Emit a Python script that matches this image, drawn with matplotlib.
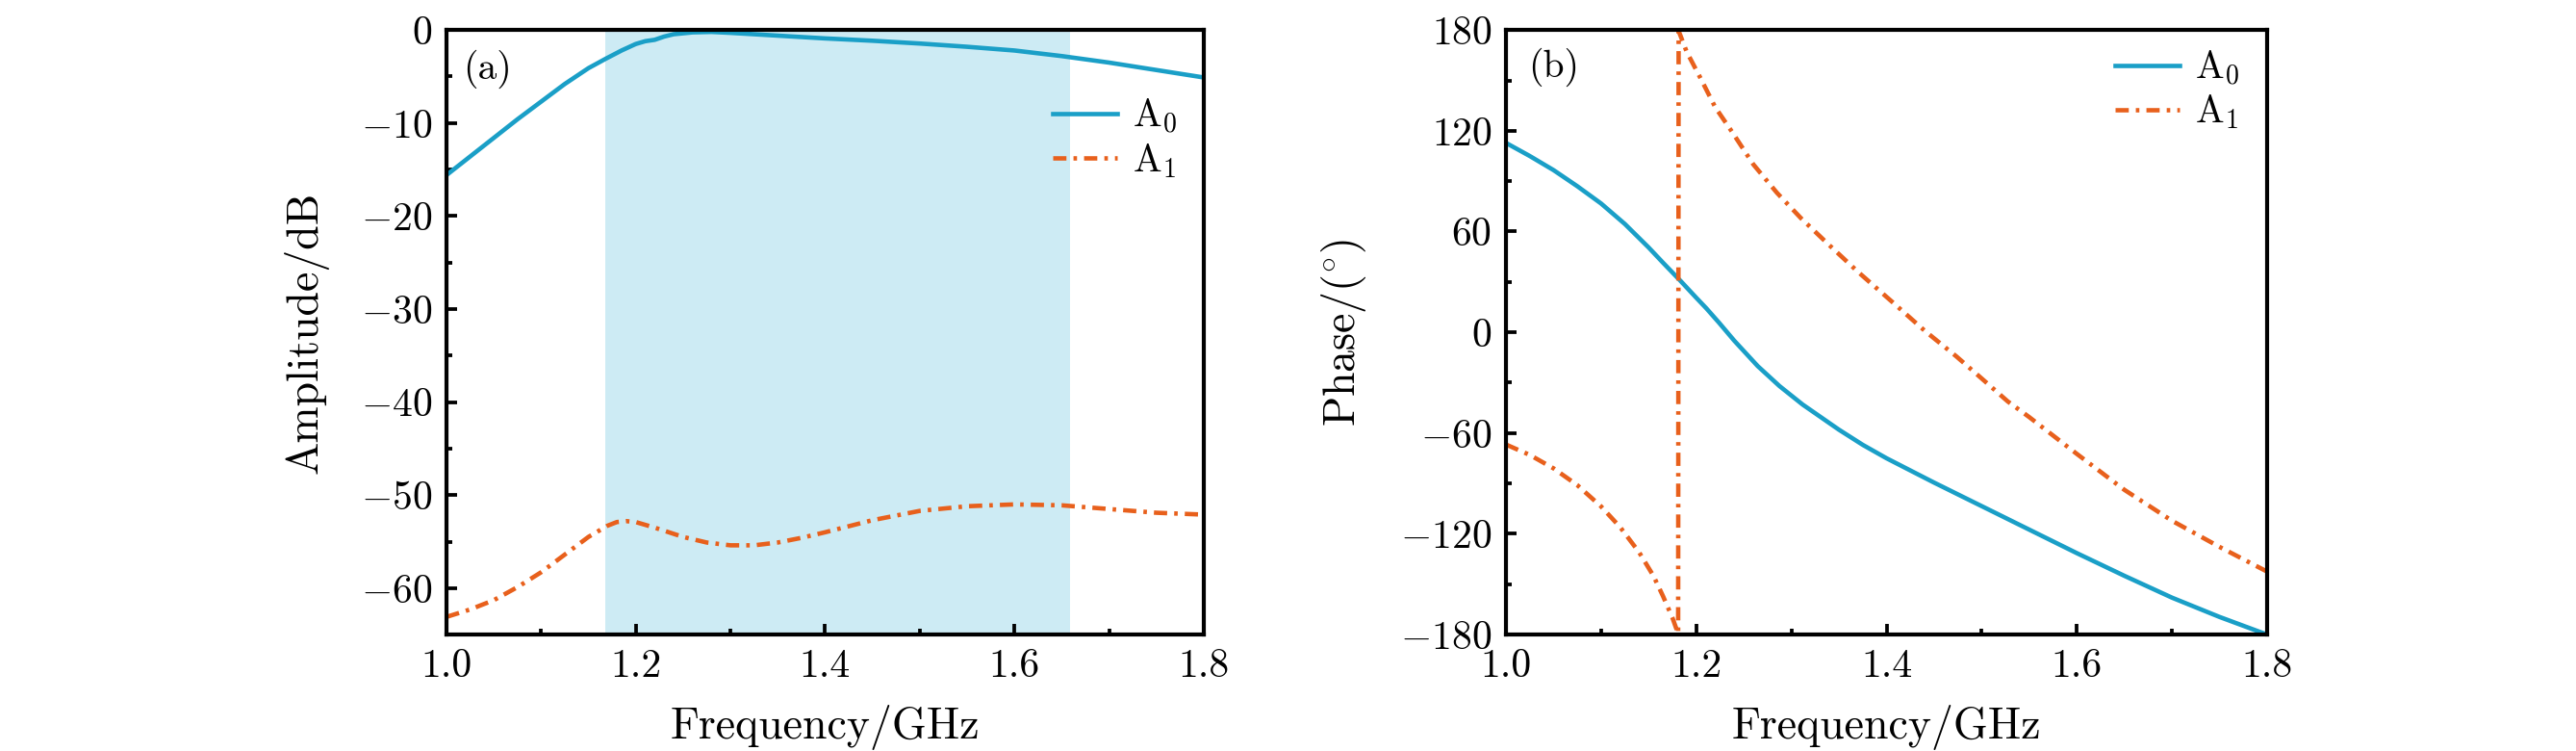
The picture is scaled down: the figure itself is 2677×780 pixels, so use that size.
import numpy as np
import matplotlib
matplotlib.use("Agg")
import matplotlib.pyplot as plt
from matplotlib.ticker import MultipleLocator, FormatStrFormatter

plt.rcParams['font.family'] = 'serif'
plt.rcParams['font.serif'] = ['cmr10']
plt.rcParams['mathtext.fontset'] = 'cm'
plt.rcParams['axes.formatter.use_mathtext'] = True
plt.rcParams['axes.unicode_minus'] = True

# --- amplitude (a) ---
freq_amp0 = [1.00, 1.025, 1.05, 1.075, 1.10, 1.125, 1.15, 1.168, 1.185, 1.20,
             1.21, 1.22, 1.23, 1.24, 1.26, 1.28, 1.30, 1.35, 1.40, 1.45, 1.50,
             1.55, 1.60, 1.65, 1.70, 1.75, 1.80]
amp_a0 = [-15.6, -13.6, -11.6, -9.6, -7.7, -5.8, -4.1, -3.1, -2.2, -1.5,
          -1.2, -1.05, -0.7, -0.45, -0.25, -0.2, -0.3, -0.6, -0.9, -1.15, -1.45,
          -1.8, -2.2, -2.8, -3.5, -4.3, -5.1]

freq_amp1 = [1.00, 1.025, 1.05, 1.075, 1.10, 1.125, 1.15, 1.17, 1.18, 1.19,
             1.20, 1.22, 1.25, 1.275, 1.30, 1.325, 1.35, 1.375, 1.40, 1.45,
             1.50, 1.55, 1.60, 1.65, 1.70, 1.75, 1.80]
amp_a1 = [-63.1, -62.3, -61.3, -59.9, -58.3, -56.4, -54.5, -53.3, -52.9, -52.8,
          -52.9, -53.5, -54.5, -55.1, -55.4, -55.4, -55.1, -54.6, -54.0, -52.7,
          -51.7, -51.2, -51.0, -51.1, -51.5, -51.9, -52.1]

band = [1.168, 1.659]

# --- phase (b) ---
freq_ph0 = [1.00, 1.025, 1.05, 1.075, 1.10, 1.125, 1.15, 1.165, 1.1837,
            1.20, 1.2106, 1.224, 1.24, 1.2646, 1.2875, 1.3118, 1.35, 1.375,
            1.40, 1.45, 1.50, 1.55, 1.60, 1.65, 1.70, 1.75, 1.80]
ph_a0 = [112.8, 105.0, 96.6, 87.0, 76.7, 64.5, 50.5, 41.5, 30.5,
         20.6, 14.3, 5.7, -5.0, -20.1, -32.0, -43.0, -58.0, -67.0,
         -75.0, -89.5, -103.5, -117.5, -131.5, -145.0, -158.0, -169.5, -180.0]

freq_ph1 = [1.00, 1.025, 1.05, 1.075, 1.10, 1.12, 1.14, 1.155, 1.165, 1.175,
            1.181, 1.1815, 1.19, 1.204, 1.22, 1.2376, 1.26, 1.2848, 1.31,
            1.3387, 1.37, 1.406, 1.44, 1.4735, 1.50, 1.5275, 1.55, 1.60,
            1.65, 1.70, 1.75, 1.80]
ph_a1 = [-66.8, -73.0, -81.0, -91.0, -103.7, -116.0, -131.0, -145.0, -157.0,
         -170.0, -179.5, 179.5, 167.0, 151.9, 134.0, 119.4, 100.0, 83.1, 68.0,
         52.5, 36.0, 18.1, 1.0, -14.4, -27.5, -41.2, -50.5, -72.4,
         -93.8, -112.2, -127.8, -142.5]

c0 = '#1a9fc7'
c1 = '#e8601c'
fs_tick = 10
fs_lab = 11
fs_leg = 9.5
dashdot = (0, (3.0, 1.6, 0.8, 1.6))
lw = 1.1

fig = plt.figure(figsize=(2677 / 300, 780 / 300), dpi=300)
ax1 = fig.add_axes([0.1733, 0.155, 0.294, 0.805])
ax2 = fig.add_axes([0.5846, 0.155, 0.2955, 0.805])

ax1.axvspan(band[0], band[1], color='#cdebf4', lw=0, zorder=0)
ax1.plot(freq_amp0, amp_a0, color=c0, lw=lw, label=r'A$_0$')
ax1.plot(freq_amp1, amp_a1, color=c1, lw=lw, ls=dashdot, label=r'A$_1$')
ax1.set_xlim(1.0, 1.8)
ax1.set_ylim(-65, 0)
ax1.yaxis.set_major_locator(MultipleLocator(10))
ax1.yaxis.set_minor_locator(MultipleLocator(5))
ax1.set_ylabel('Amplitude/dB', fontsize=fs_lab, labelpad=8)
ax1.text(0.022, 0.936, '(a)', transform=ax1.transAxes, fontsize=fs_leg, va='center')
ax1.legend(loc='upper left', bbox_to_anchor=(0.80, 0.89), frameon=False,
           fontsize=fs_leg, handlelength=1.7, handletextpad=0.4,
           labelspacing=0.15, borderpad=0, borderaxespad=0)

ax2.plot(freq_ph0, ph_a0, color=c0, lw=lw, label=r'A$_0$')
ax2.plot(freq_ph1, ph_a1, color=c1, lw=lw, ls=dashdot, label=r'A$_1$')
ax2.set_xlim(1.0, 1.8)
ax2.set_ylim(-180, 180)
ax2.yaxis.set_major_locator(MultipleLocator(60))
ax2.yaxis.set_minor_locator(MultipleLocator(30))
ax2.set_ylabel(r'Phase/($^{\circ}$)', fontsize=fs_lab, labelpad=8)
ax2.text(0.029, 0.938, '(b)', transform=ax2.transAxes, fontsize=fs_leg, va='center')
ax2.legend(loc='upper left', bbox_to_anchor=(0.80, 0.97), frameon=False,
           fontsize=fs_leg, handlelength=1.7, handletextpad=0.4,
           labelspacing=0.15, borderpad=0, borderaxespad=0)

for ax in (ax1, ax2):
    ax.xaxis.set_major_locator(MultipleLocator(0.2))
    ax.xaxis.set_minor_locator(MultipleLocator(0.1))
    ax.xaxis.set_major_formatter(FormatStrFormatter('%.1f'))
    ax.set_xlabel('Frequency/GHz', fontsize=fs_lab, labelpad=5)
    ax.tick_params(which='both', direction='in', labelsize=fs_tick, width=0.9)
    ax.tick_params(which='major', length=2.6)
    ax.tick_params(which='minor', length=1.5)
    for s in ax.spines.values():
        s.set_linewidth(1.0)

fig.savefig('out.png', dpi=300)
